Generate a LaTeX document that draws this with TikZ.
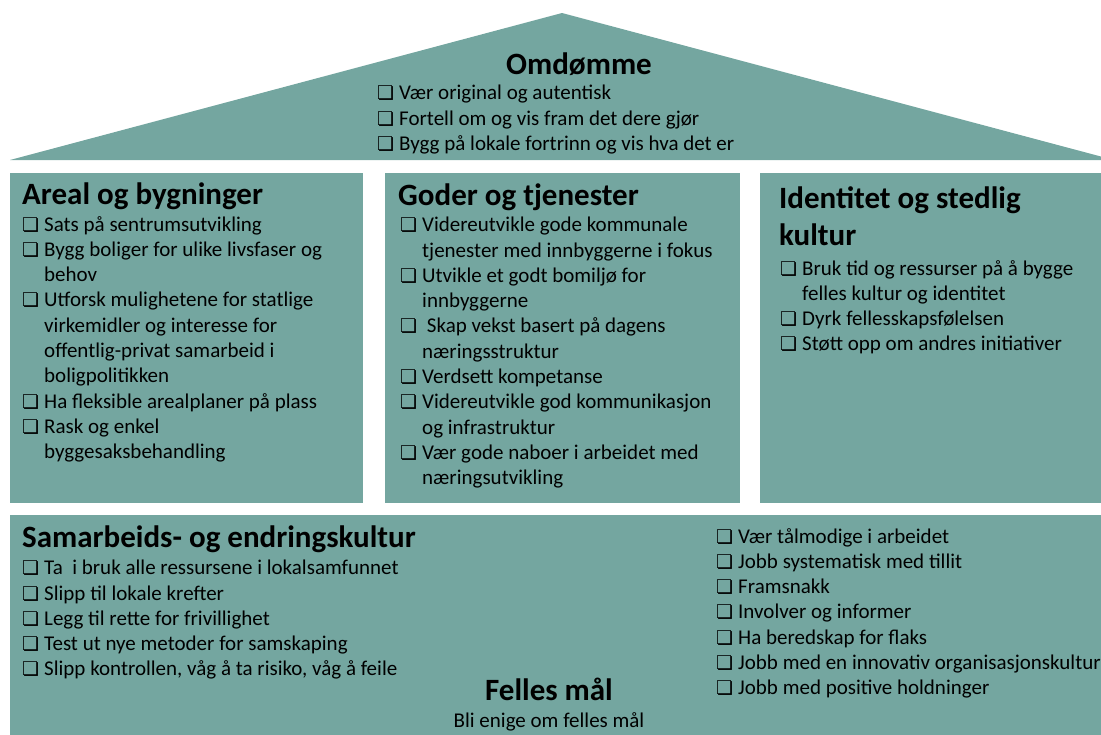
\documentclass[tikz,border=0pt]{standalone}
\usepackage{fontspec}
\setmainfont{Carlito}
\newfontfamily\boxfont{DejaVu Sans}
\usetikzlibrary{positioning}
\definecolor{housegreen}{RGB}{116,166,160}
\newcommand{\cb}{\makebox[22pt][l]{\boxfont\fontsize{19}{19}\selectfont\char"274F}}
\newcommand{\ind}{\hspace*{22pt}}
\tikzset{
  panel/.style={fill=housegreen, draw=none},
  head/.style={anchor=base west, inner sep=0pt, align=left, font=\bfseries\fontsize{31}{37}\selectfont},
  items/.style={anchor=north west, inner sep=0pt, align=left, font=\fontsize{21}{25.3}\selectfont},
}

\begin{document}
\begin{tikzpicture}[x=1pt, y=-1pt]
\clip (0,0) rectangle (1101,734);

% --- roof ---
\fill[panel] (10,160) -- (562,13) -- (1114,160) -- cycle;
\node (omd) [head, anchor=base] at (579,74) {Omdømme};
\node (omdlist) [items] at (377,85) {\cb Vær original og autentisk\\
  \cb Fortell om og vis fram det dere gjør\\
  \cb Bygg på lokale fortrinn og vis hva det er};

% --- three pillars ---
\fill[panel] (10,173) rectangle (363,503);
\fill[panel] (385,173) rectangle (740,503);
\fill[panel] (760,173) rectangle (1114,503);

\node (areal) [head] at (22,204) {Areal og bygninger};
\node (areallist) [items] at (22,216) {\cb Sats på sentrumsutvikling\\
  \cb Bygg boliger for ulike livsfaser og\\ \ind behov\\
  \cb Utforsk mulighetene for statlige\\ \ind virkemidler og interesse for\\
  \ind offentlig-privat samarbeid i\\ \ind boligpolitikken\\
  \cb Ha fleksible arealplaner på plass\\
  \cb Rask og enkel\\ \ind byggesaksbehandling};

\node (goder) [head] at (398,205) {Goder og tjenester};
\node (goderlist) [items] at (400,217) {\cb Videreutvikle gode kommunale\\
  \ind tjenester med innbyggerne i fokus\\
  \cb Utvikle et godt bomiljø for\\ \ind innbyggerne\\
  \cb\ Skap vekst basert på dagens\\ \ind næringsstruktur\\
  \cb Verdsett kompetanse\\
  \cb Videreutvikle god kommunikasjon\\ \ind og infrastruktur\\
  \cb Vær gode naboer i arbeidet med\\ \ind næringsutvikling};

\node (ident) [head, anchor=north west] at (779,186) {Identitet og stedlig\\kultur};
\node (identlist) [items] at (780,260) {\cb Bruk tid og ressurser på å bygge\\
  \ind felles kultur og identitet\\
  \cb Dyrk fellesskapsfølelsen\\
  \cb Støtt opp om andres initiativer};

% --- foundation ---
\fill[panel] (10,515) rectangle (1114,740);
\node (samarb) [head] at (22,547) {Samarbeids- og endringskultur};
\node (samarblist) [items] at (22,560) {\cb Ta\ \ i bruk alle ressursene i lokalsamfunnet\\
  \cb Slipp til lokale krefter\\
  \cb Legg til rette for frivillighet\\
  \cb Test ut nye metoder for samskaping\\
  \cb Slipp kontrollen, våg å ta risiko, våg å feile};
\node (samarbright) [items] at (716,528) {\cb Vær tålmodige i arbeidet\\
  \cb Jobb systematisk med tillit\\
  \cb Framsnakk\\
  \cb Involver og informer\\
  \cb Ha beredskap for flaks\\
  \cb Jobb med en innovativ organisasjonskultur\\
  \cb Jobb med positive holdninger};

\node (felles) [head, anchor=base] at (549,700) {Felles mål};
\node (fellestxt) [items, anchor=base, below=12pt of felles.base] {Bli enige om felles mål};

\end{tikzpicture}
\end{document}
